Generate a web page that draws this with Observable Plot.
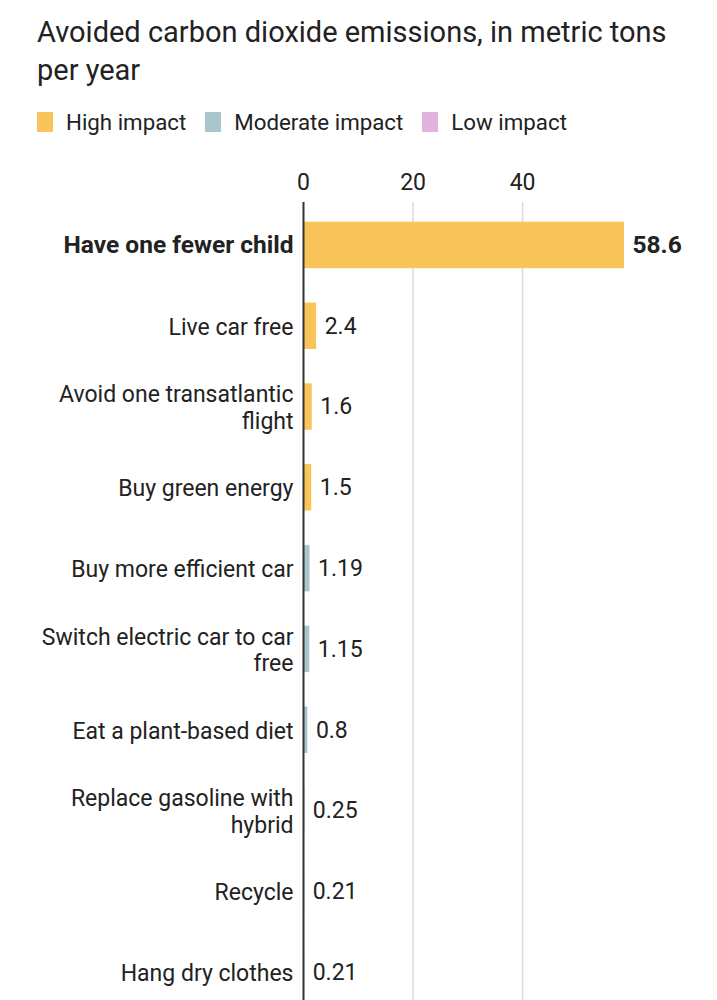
<!DOCTYPE html>
<html><head><meta charset="utf-8">
<script src="https://cdn.jsdelivr.net/npm/d3@7"></script>
<script src="https://cdn.jsdelivr.net/npm/@observablehq/plot@0.6"></script>
<style>
body{margin:0;background:#fff;font-family:Roboto, sans-serif;color:#222;}
#wrap{position:relative;width:717px;height:1000px;overflow:hidden;}
#title{position:absolute;left:37px;top:13px;font-size:29px;line-height:38px;width:645px;}
#legend{position:absolute;left:37px;top:110px;display:flex;font-size:22.3px;line-height:24px;}
.item{display:flex;align-items:center;margin-right:19px}
.sw{width:16px;height:20px;margin-right:13px}
#chart{position:absolute;left:0;top:150px;}
</style></head><body>
<div id="wrap">
<div id="title">Avoided carbon dioxide emissions, in metric tons per year</div>
<div id="legend"></div>
<div id="chart"></div>
</div>
<script>
const actions = ["Have one fewer child","Live car free","Avoid one transatlantic flight","Buy green energy","Buy more efficient car","Switch electric car to car free","Eat a plant-based diet","Replace gasoline with hybrid","Recycle","Hang dry clothes"];
const wrappedLabels = ["Have one fewer child","Live car free","Avoid one transatlantic\nflight","Buy green energy","Buy more efficient car","Switch electric car to car\nfree","Eat a plant-based diet","Replace gasoline with\nhybrid","Recycle","Hang dry clothes"];
const values = [58.6, 2.4, 1.6, 1.5, 1.19, 1.15, 0.8, 0.25, 0.21, 0.21];
const impacts = ["High impact","High impact","High impact","High impact","Moderate impact","Moderate impact","Moderate impact","Low impact","Low impact","Low impact"];
const impactLevels = ["High impact","Moderate impact","Low impact"];
const tickValues = [0, 20, 40];

const palette = ["#f9c55a","#a9c6cc","#e2b3dc"];

const data = actions.map((a,i)=>({action:a, label:wrappedLabels[i], value:values[i], impact:impacts[i]}));
const labelOf = new Map(data.map(d=>[d.action,d.label]));

const legend = document.getElementById("legend");
impactLevels.forEach((l,i)=>{
  const it = document.createElement("div"); it.className="item";
  const sw = document.createElement("div"); sw.className="sw"; sw.style.background=palette[i];
  const t = document.createElement("span"); t.textContent=l;
  it.appendChild(sw); it.appendChild(t); legend.appendChild(it);
});

const chart = Plot.plot({
  width:717, height:850,
  marginLeft:303, marginRight:93, marginTop:52, marginBottom:0,
  x:{domain:[0,58.6], axis:null},
  y:{domain:actions, range:[52,865], paddingInner:0.425, paddingOuter:0.244, round:false, axis:null},
  color:{domain:impactLevels, range:palette},
  style:{fontFamily:"Roboto, sans-serif", color:"#222", background:"transparent"},
  marks:[
    Plot.ruleX(tickValues.slice(1), {stroke:"#dcdcdc", strokeWidth:1.5}),
    Plot.barX(data, {x:"value", y:"action", fill:"impact"}),
    Plot.ruleX([0], {stroke:"#333", strokeWidth:2}),
    Plot.axisX({anchor:"top", ticks:tickValues, tickSize:0, tickPadding:13, fontSize:23, label:null}),
    Plot.axisY({ticks:actions.slice(1), tickSize:0, tickPadding:10, fontSize:23, lineHeight:1.17, label:null, tickFormat:d=>labelOf.get(d)}),
    Plot.axisY({ticks:actions.slice(0,1), tickSize:0, tickPadding:10, fontSize:24.5, fontWeight:"bold", label:null, tickFormat:d=>labelOf.get(d)}),
    Plot.text(data.slice(1), {x:"value", y:"action", text:d=>String(d.value), dx:8, textAnchor:"start", fontSize:23, fill:"#222"}),
    Plot.text(data.slice(0,1), {x:"value", y:"action", text:d=>String(d.value), dx:8, textAnchor:"start", fontSize:24.5, fontWeight:"bold", fill:"#222"})
  ]
});
document.getElementById("chart").appendChild(chart);
</script>
</body></html>
